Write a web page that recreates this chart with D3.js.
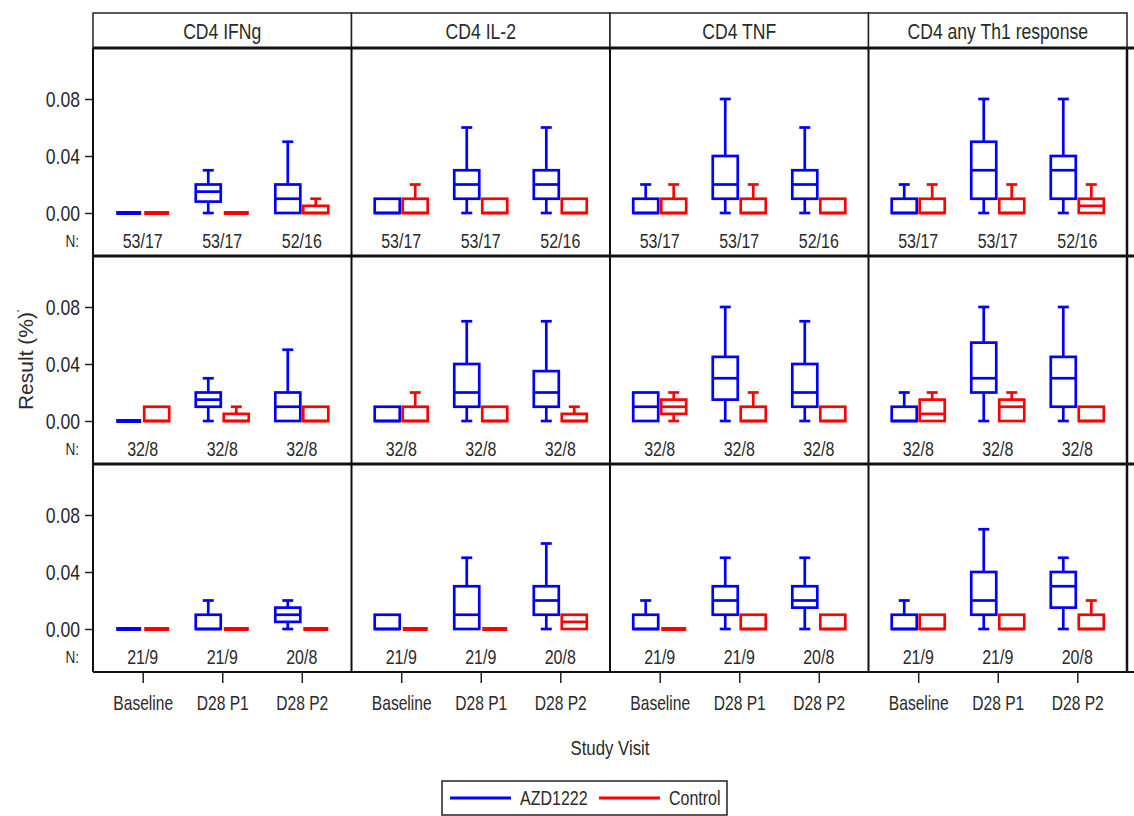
<!DOCTYPE html>
<html>
<head>
<meta charset="utf-8">
<script src="https://cdn.jsdelivr.net/npm/d3@7"></script>
<style>
  body { margin: 0; background: #fff; }
  svg text { font-family: "Liberation Sans", Arial, sans-serif; fill: #2a2a2a; }
</style>
</head>
<body>
<svg id="chart" width="1134" height="816"></svg>
<script>
// categories
const measures = ["CD4 IFNg", "CD4 IL-2", "CD4 TNF", "CD4 any Th1 response"];
const visits = ["Baseline", "D28 P1", "D28 P2"];
const groups = ["AZD1222", "Control"];
const yTicks = [0, 0.04, 0.08];

// N labels per row (AZD1222/Control), per visit
const nRow1 = ["53/17", "53/17", "52/16"];
const nRow2 = ["32/8", "32/8", "32/8"];
const nRow3 = ["21/9", "21/9", "20/8"];

// box stats [low whisker, q1, median, q3, high whisker], [measure][visit]
const azdRow1 = [
  [[0, 0, 0, 0, 0], [0, 0.008, 0.015, 0.02, 0.03], [0, 0, 0.01, 0.02, 0.05]],
  [[0, 0, 0, 0.01, 0.01], [0, 0.01, 0.02, 0.03, 0.06], [0, 0.01, 0.02, 0.03, 0.06]],
  [[0, 0, 0, 0.01, 0.02], [0, 0.01, 0.02, 0.04, 0.08], [0, 0.01, 0.02, 0.03, 0.06]],
  [[0, 0, 0, 0.01, 0.02], [0, 0.01, 0.03, 0.05, 0.08], [0, 0.01, 0.03, 0.04, 0.08]]
];
const ctlRow1 = [
  [[0, 0, 0, 0, 0], [0, 0, 0, 0, 0], [0, 0, 0, 0.005, 0.01]],
  [[0, 0, 0, 0.01, 0.02], [0, 0, 0, 0.01, 0.01], [0, 0, 0, 0.01, 0.01]],
  [[0, 0, 0, 0.01, 0.02], [0, 0, 0, 0.01, 0.02], [0, 0, 0, 0.01, 0.01]],
  [[0, 0, 0, 0.01, 0.02], [0, 0, 0, 0.01, 0.02], [0, 0, 0.005, 0.01, 0.02]]
];
const azdRow2 = [
  [[0, 0, 0, 0, 0], [0, 0.01, 0.015, 0.02, 0.03], [0, 0, 0.01, 0.02, 0.05]],
  [[0, 0, 0, 0.01, 0.01], [0, 0.01, 0.02, 0.04, 0.07], [0, 0.01, 0.02, 0.035, 0.07]],
  [[0, 0, 0.01, 0.02, 0.02], [0, 0.015, 0.03, 0.045, 0.08], [0, 0.01, 0.02, 0.04, 0.07]],
  [[0, 0, 0, 0.01, 0.02], [0, 0.02, 0.03, 0.055, 0.08], [0, 0.01, 0.03, 0.045, 0.08]]
];
const ctlRow2 = [
  [[0, 0, 0, 0.01, 0.01], [0, 0, 0, 0.005, 0.01], [0, 0, 0, 0.01, 0.01]],
  [[0, 0, 0, 0.01, 0.02], [0, 0, 0, 0.01, 0.01], [0, 0, 0, 0.005, 0.01]],
  [[0, 0.005, 0.01, 0.015, 0.02], [0, 0, 0, 0.01, 0.02], [0, 0, 0, 0.01, 0.01]],
  [[0, 0, 0.005, 0.015, 0.02], [0, 0, 0.01, 0.015, 0.02], [0, 0, 0, 0.01, 0.01]]
];
const azdRow3 = [
  [[0, 0, 0, 0, 0], [0, 0, 0, 0.01, 0.02], [0, 0.005, 0.01, 0.015, 0.02]],
  [[0, 0, 0, 0.01, 0.01], [0, 0, 0.01, 0.03, 0.05], [0, 0.01, 0.02, 0.03, 0.06]],
  [[0, 0, 0, 0.01, 0.02], [0, 0.01, 0.02, 0.03, 0.05], [0, 0.015, 0.02, 0.03, 0.05]],
  [[0, 0, 0, 0.01, 0.02], [0, 0.01, 0.02, 0.04, 0.07], [0, 0.015, 0.03, 0.04, 0.05]]
];
const ctlRow3 = [
  [[0, 0, 0, 0, 0], [0, 0, 0, 0, 0], [0, 0, 0, 0, 0]],
  [[0, 0, 0, 0, 0], [0, 0, 0, 0, 0], [0, 0, 0.005, 0.01, 0.01]],
  [[0, 0, 0, 0, 0], [0, 0, 0, 0.01, 0.01], [0, 0, 0, 0.01, 0.01]],
  [[0, 0, 0, 0.01, 0.01], [0, 0, 0, 0.01, 0.01], [0, 0, 0, 0.01, 0.02]]
];

const rows = [
  {n: nRow1, azd: azdRow1, ctl: ctlRow1},
  {n: nRow2, azd: azdRow2, ctl: ctlRow2},
  {n: nRow3, azd: azdRow3, ctl: ctlRow3}
];
const colors = {AZD1222: "#0000ff", Control: "#ff0000"};

// layout
const left = 93, panelW = 258.5, stripTop = 13, stripBottom = 48, rowH = 208;
const right = left + panelW * measures.length;
const bottom = stripBottom + rowH * rows.length;

const svg = d3.select("#chart");

// the original uses a condensed face; squeeze Liberation Sans horizontally
function narrow(sel, sx = 0.8) {
  sel.each(function() {
    const t = d3.select(this);
    const x = +t.attr("x") || 0;
    t.attr("x", x / sx).attr("transform", `scale(${sx},1)`);
  });
}

// header strip
const strip = svg.append("g");
measures.forEach((m, i) => {
  strip.append("rect")
    .attr("x", left + i * panelW).attr("y", stripTop)
    .attr("width", panelW).attr("height", stripBottom - stripTop)
    .attr("fill", "#fff").attr("stroke", "#222").attr("stroke-width", 1.5);
  strip.append("text")
    .attr("x", left + i * panelW + panelW / 2).attr("y", (stripTop + stripBottom) / 2 + 1)
    .attr("text-anchor", "middle").attr("dominant-baseline", "central")
    .attr("font-size", 22).text(m);
});
narrow(strip.selectAll("text"));

const boxW = 25, offset = 14, capW = 11;

rows.forEach((row, r) => {
  const top = stripBottom + r * rowH;
  const y = d3.scaleLinear().domain([0, 0.08]).range([top + 165, top + 51]);

  // y axis
  const yAxis = svg.append("g")
    .attr("transform", `translate(${left},0)`)
    .call(d3.axisLeft(y).tickValues(yTicks).tickFormat(d3.format(".2f")).tickSize(8).tickPadding(5));
  yAxis.select(".domain").remove();
  yAxis.selectAll("line").attr("stroke", "#222").attr("stroke-width", 1.5);
  yAxis.selectAll("text").attr("font-size", 22).attr("fill", "#2a2a2a")
    .style("font-family", '"Liberation Sans", Arial, sans-serif');
  narrow(yAxis.selectAll("text"));

  const nl = svg.append("text")
    .attr("x", 79).attr("y", top + 193)
    .attr("text-anchor", "end").attr("dominant-baseline", "central")
    .attr("font-size", 17).text("N:");
  narrow(nl);

  measures.forEach((m, c) => {
    const x0 = left + c * panelW;
    const x = d3.scalePoint().domain(visits).range([x0, x0 + panelW]).padding(0.625);
    const g = svg.append("g");

    visits.forEach((v, vi) => {
      [["AZD1222", row.azd[c][vi], -offset], ["Control", row.ctl[c][vi], offset]].forEach(([grp, s, dx]) => {
        const cx = x(v) + dx;
        const [lo, q1, med, q3, hi] = s;
        const col = colors[grp];
        const bg = g.append("g").attr("stroke", col).attr("stroke-width", 2.7).attr("fill", "none");
        if (hi > q3) {
          bg.append("line").attr("x1", cx).attr("x2", cx).attr("y1", y(hi)).attr("y2", y(q3));
          bg.append("line").attr("x1", cx - capW / 2).attr("x2", cx + capW / 2).attr("y1", y(hi)).attr("y2", y(hi));
        }
        if (lo < q1) {
          bg.append("line").attr("x1", cx).attr("x2", cx).attr("y1", y(q1)).attr("y2", y(lo));
          bg.append("line").attr("x1", cx - capW / 2).attr("x2", cx + capW / 2).attr("y1", y(lo)).attr("y2", y(lo));
        }
        bg.append("rect")
          .attr("x", cx - boxW / 2).attr("y", y(q3))
          .attr("width", boxW).attr("height", Math.max(0, y(q1) - y(q3)));
        bg.append("line").attr("x1", cx - boxW / 2).attr("x2", cx + boxW / 2).attr("y1", y(med)).attr("y2", y(med))
          .attr("stroke-width", q1 === q3 ? 4 : 2.7);
      });

      g.append("text")
        .attr("x", x(v)).attr("y", top + 193)
        .attr("text-anchor", "middle").attr("dominant-baseline", "central")
        .attr("font-size", 20).text(row.n[vi]);
    });
    narrow(g.selectAll("text"));

    // bottom category axis on last row
    if (r === rows.length - 1) {
      const xa = svg.append("g")
        .attr("transform", `translate(0,${bottom})`)
        .call(d3.axisBottom(x).tickSize(11).tickPadding(13));
      xa.select(".domain").remove();
      xa.selectAll("line").attr("stroke", "#222").attr("stroke-width", 1.5);
      xa.selectAll("text").attr("font-size", 20).attr("fill", "#2a2a2a")
        .style("font-family", '"Liberation Sans", Arial, sans-serif');
      narrow(xa.selectAll("text"), 0.78);
    }
  });
});

// panel borders
const borders = svg.append("g").attr("stroke", "#111").attr("fill", "none");
measures.forEach((m, i) => {
  const xx = left + i * panelW;
  borders.append("line").attr("x1", xx).attr("x2", xx).attr("y1", stripBottom).attr("y2", bottom).attr("stroke-width", 2);
});
borders.append("line").attr("x1", right).attr("x2", right).attr("y1", stripBottom).attr("y2", bottom).attr("stroke-width", 2.5);
rows.forEach((row, r) => {
  const yy = stripBottom + r * rowH;
  borders.append("line").attr("x1", left).attr("x2", 1134).attr("y1", yy).attr("y2", yy).attr("stroke-width", 3);
});
borders.append("line").attr("x1", left).attr("x2", 1134).attr("y1", bottom).attr("y2", bottom).attr("stroke-width", 2);

// axis titles
const xt = svg.append("text")
  .attr("x", (left + right) / 2).attr("y", 748)
  .attr("text-anchor", "middle").attr("dominant-baseline", "central")
  .attr("font-size", 21).text("Study Visit");
narrow(xt);

const yl = svg.append("text")
  .attr("transform", `translate(33,${(stripBottom + bottom) / 2}) rotate(-90)`)
  .attr("text-anchor", "middle")
  .attr("font-size", 21);
yl.append("tspan").text("Result (%)");
yl.append("tspan").attr("font-size", 11).attr("dy", -8).text("'");

// legend
const lg = svg.append("g");
lg.append("rect").attr("x", 442).attr("y", 781).attr("width", 285).attr("height", 34)
  .attr("fill", "#fff").attr("stroke", "#222").attr("stroke-width", 1.5);
const legendItems = [[groups[0], 450, 520], [groups[1], 599, 669]];
legendItems.forEach(([name, lx, tx]) => {
  lg.append("line").attr("x1", lx).attr("x2", lx + 61).attr("y1", 798).attr("y2", 798)
    .attr("stroke", colors[name]).attr("stroke-width", 3);
  const t = lg.append("text").attr("x", tx).attr("y", 798).attr("dominant-baseline", "central")
    .attr("font-size", 20).text(name);
  narrow(t);
});
</script>
</body>
</html>
